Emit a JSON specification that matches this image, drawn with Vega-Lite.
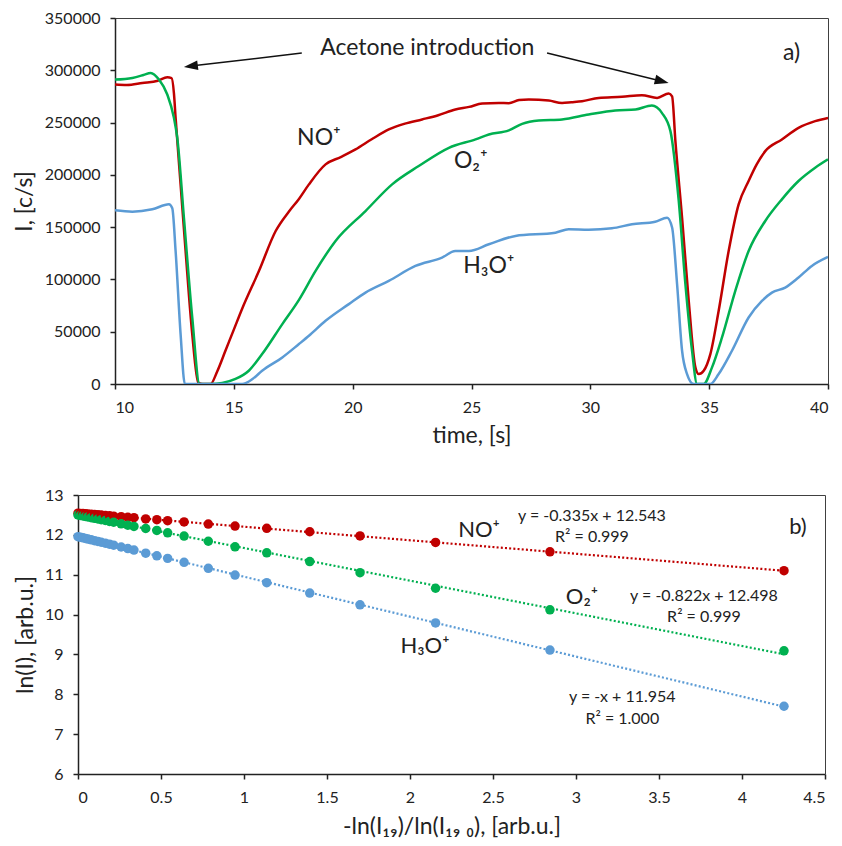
{
  "$schema": "https://vega.github.io/schema/vega-lite/v6.json",
  "padding": {"left": 12, "top": 9, "right": 10, "bottom": 5},
  "background": "white",
  "config": {
    "font": "Lato",
    "view": {"stroke": "#404040", "strokeWidth": 1},
    "axis": {"domainColor": "#222", "domainWidth": 1.5, "tickColor": "#222", "tickWidth": 1.5, "tickSize": 5, "grid": false, "labelFont": "Lato", "labelFontSize": 16, "labelColor": "#222", "labelPadding": 10, "titleFont": "Lato", "titleFontSize": 23, "titleFontWeight": "normal", "titleColor": "#222"},
    "text": {"font": "Lato", "color": "#222"}
  },
  "datasets": {
    "a": [
      {"ion":"no","t":10.0,"v":286400},{"ion":"no","t":10.5,"v":286000},{"ion":"no","t":11.15,"v":287900},{"ion":"no","t":11.8,"v":290000},{"ion":"no","t":12.2,"v":293300},{"ion":"no","t":12.38,"v":292500},{"ion":"no","t":12.48,"v":278000},{"ion":"no","t":12.55,"v":254500},{"ion":"no","t":12.76,"v":190900},{"ion":"no","t":12.97,"v":127200},{"ion":"no","t":13.25,"v":47700},{"ion":"no","t":13.5,"v":1500},{"ion":"no","t":13.7,"v":0},{"ion":"no","t":14.02,"v":0},{"ion":"no","t":14.3,"v":12000},{"ion":"no","t":14.65,"v":32000},{"ion":"no","t":15.0,"v":52000},{"ion":"no","t":15.35,"v":72000},{"ion":"no","t":16.06,"v":108200},{"ion":"no","t":16.76,"v":146300},{"ion":"no","t":17.32,"v":165000},{"ion":"no","t":17.74,"v":177000},{"ion":"no","t":18.16,"v":190900},{"ion":"no","t":18.86,"v":210000},{"ion":"no","t":19.5,"v":217000},{"ion":"no","t":20.12,"v":224300},{"ion":"no","t":20.8,"v":234000},{"ion":"no","t":21.52,"v":243400},{"ion":"no","t":22.2,"v":249000},{"ion":"no","t":22.92,"v":253000},{"ion":"no","t":23.6,"v":257000},{"ion":"no","t":24.32,"v":262500},{"ion":"no","t":24.9,"v":265000},{"ion":"no","t":25.45,"v":268200},{"ion":"no","t":26.15,"v":268800},{"ion":"no","t":26.57,"v":268500},{"ion":"no","t":27.0,"v":271500},{"ion":"no","t":27.41,"v":272000},{"ion":"no","t":28.25,"v":271000},{"ion":"no","t":28.81,"v":268800},{"ion":"no","t":29.2,"v":269500},{"ion":"no","t":29.65,"v":270400},{"ion":"no","t":30.35,"v":273600},{"ion":"no","t":31.33,"v":274600},{"ion":"no","t":32.17,"v":276200},{"ion":"no","t":32.81,"v":273600},{"ion":"no","t":33.3,"v":277800},{"ion":"no","t":33.44,"v":275000},{"ion":"no","t":33.58,"v":232000},{"ion":"no","t":33.86,"v":159000},{"ion":"no","t":34.14,"v":79500},{"ion":"no","t":34.42,"v":15900},{"ion":"no","t":34.56,"v":9500},{"ion":"no","t":34.77,"v":12700},{"ion":"no","t":35.05,"v":28600},{"ion":"no","t":35.4,"v":70000},{"ion":"no","t":35.82,"v":127200},{"ion":"no","t":36.24,"v":171800},{"ion":"no","t":36.66,"v":194100},{"ion":"no","t":37.0,"v":210000},{"ion":"no","t":37.36,"v":222700},{"ion":"no","t":38.06,"v":233900},{"ion":"no","t":38.76,"v":245000},{"ion":"no","t":39.46,"v":251400},{"ion":"no","t":40.0,"v":254500},
      {"ion":"o2","t":10.0,"v":291100},{"ion":"o2","t":10.73,"v":292700},{"ion":"o2","t":11.2,"v":295500},{"ion":"o2","t":11.5,"v":297500},{"ion":"o2","t":11.85,"v":291100},{"ion":"o2","t":12.2,"v":276800},{"ion":"o2","t":12.48,"v":254500},{"ion":"o2","t":12.62,"v":235400},{"ion":"o2","t":12.9,"v":159000},{"ion":"o2","t":13.25,"v":63600},{"ion":"o2","t":13.56,"v":0},{"ion":"o2","t":14.0,"v":0},{"ion":"o2","t":14.51,"v":1000},{"ion":"o2","t":15.07,"v":4800},{"ion":"o2","t":15.63,"v":12700},{"ion":"o2","t":16.19,"v":28600},{"ion":"o2","t":17.04,"v":57300},{"ion":"o2","t":17.74,"v":80500},{"ion":"o2","t":18.44,"v":108200},{"ion":"o2","t":19.28,"v":136800},{"ion":"o2","t":20.54,"v":165400},{"ion":"o2","t":21.66,"v":190900},{"ion":"o2","t":22.78,"v":208400},{"ion":"o2","t":24.05,"v":225900},{"ion":"o2","t":25.17,"v":233900},{"ion":"o2","t":25.73,"v":238600},{"ion":"o2","t":26.57,"v":242500},{"ion":"o2","t":27.13,"v":248800},{"ion":"o2","t":27.83,"v":252000},{"ion":"o2","t":28.81,"v":253000},{"ion":"o2","t":29.93,"v":257700},{"ion":"o2","t":31.05,"v":261600},{"ion":"o2","t":31.9,"v":262500},{"ion":"o2","t":32.59,"v":266300},{"ion":"o2","t":33.01,"v":259300},{"ion":"o2","t":33.37,"v":241800},{"ion":"o2","t":33.72,"v":175000},{"ion":"o2","t":34.0,"v":95500},{"ion":"o2","t":34.28,"v":31800},{"ion":"o2","t":34.49,"v":0},{"ion":"o2","t":34.77,"v":0},{"ion":"o2","t":35.12,"v":15900},{"ion":"o2","t":35.54,"v":44500},{"ion":"o2","t":36.1,"v":89100},{"ion":"o2","t":36.66,"v":127200},{"ion":"o2","t":37.36,"v":155900},{"ion":"o2","t":38.06,"v":176600},{"ion":"o2","t":38.76,"v":194100},{"ion":"o2","t":39.46,"v":206800},{"ion":"o2","t":40.0,"v":214800},
      {"ion":"h3o","t":10.0,"v":166100},{"ion":"h3o","t":10.73,"v":164800},{"ion":"h3o","t":11.57,"v":167100},{"ion":"h3o","t":12.27,"v":171800},{"ion":"h3o","t":12.41,"v":168000},{"ion":"h3o","t":12.55,"v":127200},{"ion":"h3o","t":12.76,"v":47700},{"ion":"h3o","t":12.94,"v":0},{"ion":"h3o","t":13.5,"v":0},{"ion":"h3o","t":14.5,"v":0},{"ion":"h3o","t":15.35,"v":0},{"ion":"h3o","t":15.8,"v":5000},{"ion":"h3o","t":16.19,"v":12700},{"ion":"h3o","t":17.04,"v":25400},{"ion":"h3o","t":17.74,"v":38200},{"ion":"h3o","t":18.16,"v":46100},{"ion":"h3o","t":18.86,"v":60400},{"ion":"h3o","t":19.84,"v":76400},{"ion":"h3o","t":20.54,"v":87400},{"ion":"h3o","t":21.52,"v":98600},{"ion":"h3o","t":22.64,"v":112900},{"ion":"h3o","t":23.76,"v":120900},{"ion":"h3o","t":24.32,"v":127200},{"ion":"h3o","t":24.89,"v":127200},{"ion":"h3o","t":25.73,"v":133600},{"ion":"h3o","t":26.85,"v":141600},{"ion":"h3o","t":28.53,"v":144700},{"ion":"h3o","t":29.09,"v":148000},{"ion":"h3o","t":29.93,"v":147600},{"ion":"h3o","t":30.91,"v":148900},{"ion":"h3o","t":31.75,"v":152700},{"ion":"h3o","t":32.73,"v":155200},{"ion":"h3o","t":33.23,"v":159000},{"ion":"h3o","t":33.44,"v":149600},{"ion":"h3o","t":33.65,"v":95500},{"ion":"h3o","t":33.86,"v":31800},{"ion":"h3o","t":34.07,"v":9500},{"ion":"h3o","t":34.35,"v":0},{"ion":"h3o","t":35.05,"v":0},{"ion":"h3o","t":35.4,"v":9500},{"ion":"h3o","t":35.96,"v":31800},{"ion":"h3o","t":36.66,"v":63600},{"ion":"h3o","t":37.22,"v":79500},{"ion":"h3o","t":37.64,"v":87400},{"ion":"h3o","t":38.2,"v":92200},{"ion":"h3o","t":38.76,"v":101800},{"ion":"h3o","t":39.32,"v":112900},{"ion":"h3o","t":40.0,"v":121500}
    ],
    "annA": [
      {"t":23.14,"v":321000,"label":"Acetone introduction"},
      {"t":38.47,"v":316300,"label":"a)"},
      {"t":18.58,"v":235000,"label":"NO⁺"},
      {"t":24.97,"v":213200,"label":"O₂⁺"},
      {"t":25.73,"v":113000,"label":"H₃O⁺"}
    ],
    "arrows": [
      {"t":17.86,"v":316500,"t2":13.19,"v2":304000},
      {"t":28.18,"v":316500,"t2":33.01,"v2":289500}
    ],
    "heads": [
      {"id":"L","t":13.19,"v":304000},
      {"id":"R","t":33.01,"v":289500}
    ],
    "b": [
      {"x":0,"no":12.545,"o2":12.5,"h3o":11.955},
      {"x":0.015,"no":12.538,"o2":12.487,"h3o":11.94},
      {"x":0.03,"no":12.533,"o2":12.474,"h3o":11.925},
      {"x":0.045,"no":12.528,"o2":12.462,"h3o":11.91},
      {"x":0.06,"no":12.523,"o2":12.449,"h3o":11.895},
      {"x":0.08,"no":12.516,"o2":12.432,"h3o":11.875},
      {"x":0.1,"no":12.51,"o2":12.415,"h3o":11.855},
      {"x":0.12,"no":12.503,"o2":12.398,"h3o":11.835},
      {"x":0.14,"no":12.496,"o2":12.381,"h3o":11.815},
      {"x":0.165,"no":12.487,"o2":12.36,"h3o":11.79},
      {"x":0.19,"no":12.479,"o2":12.338,"h3o":11.765},
      {"x":0.215,"no":12.47,"o2":12.317,"h3o":11.74},
      {"x":0.26,"no":12.455,"o2":12.278,"h3o":11.695},
      {"x":0.3,"no":12.442,"o2":12.244,"h3o":11.655},
      {"x":0.337,"no":12.43,"o2":12.212,"h3o":11.618},
      {"x":0.408,"no":12.4,"o2":12.16,"h3o":11.54},
      {"x":0.475,"no":12.38,"o2":12.11,"h3o":11.475},
      {"x":0.54,"no":12.355,"o2":12.05,"h3o":11.41},
      {"x":0.639,"no":12.325,"o2":11.97,"h3o":11.31},
      {"x":0.785,"no":12.27,"o2":11.84,"h3o":11.16},
      {"x":0.946,"no":12.22,"o2":11.7,"h3o":10.99},
      {"x":1.137,"no":12.163,"o2":11.55,"h3o":10.8},
      {"x":1.396,"no":12.078,"o2":11.33,"h3o":10.54},
      {"x":1.699,"no":11.972,"o2":11.05,"h3o":10.245},
      {"x":2.154,"no":11.81,"o2":10.66,"h3o":9.79},
      {"x":2.843,"no":11.575,"o2":10.12,"h3o":9.11},
      {"x":4.253,"no":11.1,"o2":9.09,"h3o":7.7}
    ],
    "annB": [
      {"x":2.416,"y":12.115,"label":"NO⁺"},
      {"x":3.036,"y":10.436,"label":"O₂⁺"},
      {"x":2.09,"y":9.21,"label":"H₃O⁺"},
      {"x":4.337,"y":12.2,"label":"b)"}
    ],
    "eqB": [
      {"x":3.096,"y":12.479,"label":"y = -0.335x + 12.543"},
      {"x":3.096,"y":11.94,"label":"R² = 0.999"},
      {"x":3.771,"y":10.469,"label":"y = -0.822x + 12.498"},
      {"x":3.771,"y":9.93,"label":"R² = 0.999"},
      {"x":3.279,"y":7.92,"label":"y = -x + 11.954"},
      {"x":3.279,"y":7.38,"label":"R² = 1.000"}
    ]
  },
  "vconcat": [
    {
      "width": 713,
      "height": 366,
      "encoding": {
        "x": {"field": "t", "type": "quantitative", "title": "time, [s]", "scale": {"domain": [10, 40], "nice": false}, "axis": {"values": [10, 15, 20, 25, 30, 35, 40], "titlePadding": 9}},
        "y": {"field": "v", "type": "quantitative", "title": "I, [c/s]", "scale": {"domain": [0, 350000], "nice": false}, "axis": {"values": [0, 50000, 100000, 150000, 200000, 250000, 300000, 350000], "format": "d", "titlePadding": 8}}
      },
      "layer": [
        {
          "data": {"name": "a"},
          "mark": {"type": "line", "interpolate": "monotone", "strokeWidth": 2.5, "clip": true},
          "encoding": {
            "color": {"field": "ion", "type": "nominal", "scale": {"domain": ["no", "o2", "h3o"], "range": ["#C00000", "#00B050", "#5B9BD5"]}, "legend": null}
          }
        },
        {
          "data": {"name": "arrows"},
          "mark": {"type": "rule", "color": "#111", "strokeWidth": 1.5},
          "encoding": {"x2": {"field": "t2"}, "y2": {"field": "v2"}}
        },
        {
          "data": {"name": "heads"},
          "transform": [{"filter": "datum.id == 'L'"}],
          "mark": {"type": "point", "shape": "M0,-1L0.7,1L-0.7,1Z", "filled": true, "color": "#111", "opacity": 1, "size": 196, "angle": 263}
        },
        {
          "data": {"name": "heads"},
          "transform": [{"filter": "datum.id == 'R'"}],
          "mark": {"type": "point", "shape": "M0,-1L0.7,1L-0.7,1Z", "filled": true, "color": "#111", "opacity": 1, "size": 196, "angle": 104}
        },
        {
          "data": {"name": "annA"},
          "mark": {"type": "text", "fontSize": 23, "align": "center", "baseline": "middle"},
          "encoding": {"text": {"field": "label"}}
        }
      ]
    },
    {
      "width": 710,
      "height": 279,
      "view": {"stroke": null},
      "resolve": {"axis": {"x": "independent", "y": "independent"}},
      "layer": [
        {
          "encoding": {
            "x": {"field": "x", "type": "quantitative", "title": "-ln(I₁₉)/ln(I₁₉ ₀), [arb.u.]", "scale": {"domain": [0, 4.5], "nice": false, "range": [-37, 710]}, "axis": {"values": [0, 0.5, 1, 1.5, 2, 2.5, 3, 3.5, 4, 4.5], "format": "~g", "titlePadding": 10}},
            "y": {"field": "y", "type": "quantitative", "title": "ln(I), [arb.u.]", "scale": {"domain": [6, 13], "nice": false, "zero": false}, "axis": {"values": [6, 7, 8, 9, 10, 11, 12, 13], "titlePadding": 7, "offset": 37}}
          },
          "layer": [
            {
              "data": {"name": "b"},
              "transform": [
                {"fold": ["no", "o2", "h3o"], "as": ["ion", "y"]},
                {"regression": "y", "on": "x", "groupby": ["ion"]}
              ],
              "mark": {"type": "line", "strokeWidth": 2.2, "strokeDash": [2, 2.2]},
              "encoding": {
                "color": {"field": "ion", "type": "nominal", "scale": {"domain": ["no", "o2", "h3o"], "range": ["#C00000", "#00B050", "#5B9BD5"]}, "legend": null}
              }
            },
            {
              "data": {"name": "b"},
              "transform": [{"fold": ["no", "o2", "h3o"], "as": ["ion", "y"]}],
              "mark": {"type": "circle", "size": 90, "opacity": 1},
              "encoding": {
                "color": {"field": "ion", "type": "nominal", "scale": {"domain": ["no", "o2", "h3o"], "range": ["#C00000", "#00B050", "#5B9BD5"]}, "legend": null}
              }
            },
            {
              "data": {"name": "eqB"},
              "mark": {"type": "text", "fontSize": 16, "align": "center", "baseline": "middle"},
              "encoding": {"text": {"field": "label"}}
            }
          ]
        },
        {
          "data": {"name": "annB"},
          "mark": {"type": "text", "fontSize": 22, "align": "center", "baseline": "middle"},
          "encoding": {
            "x": {"field": "x", "type": "quantitative", "axis": {"orient": "top", "labels": false, "ticks": false, "title": null, "domainColor": "#404040", "domainWidth": 1}},
            "y": {"field": "y", "type": "quantitative", "axis": {"orient": "right", "labels": false, "ticks": false, "title": null, "domainColor": "#404040", "domainWidth": 1}},
            "text": {"field": "label"}
          }
        }
      ]
    }
  ],
  "spacing": 39
}
